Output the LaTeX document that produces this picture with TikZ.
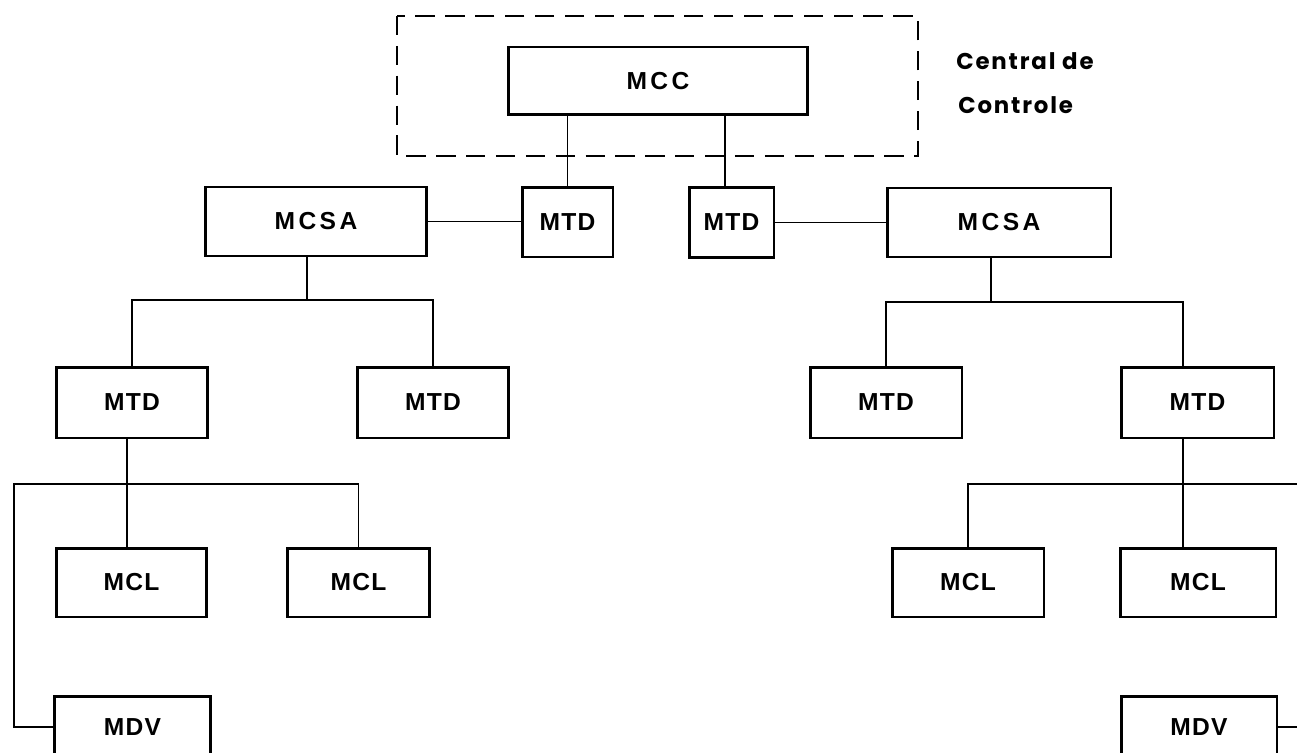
\documentclass[tikz,border=0pt]{standalone}
\usepackage{fontspec}
\setmainfont{Liberation Sans}[LetterSpace=5]
\newfontfamily\widefont{Liberation Sans}[LetterSpace=14]
\newfontfamily\notefont{Poppins}[LetterSpace=8]
\usepackage{tikz}
\usetikzlibrary{positioning, calc}

\begin{document}
\begin{tikzpicture}[x=0.02cm, y=-0.02cm,
    box/.style={rectangle, draw=black, line width=1.7pt, inner sep=0pt,
        font=\bfseries\fontsize{14}{16}\selectfont, minimum height=1.4cm},
    wbox/.style={box, font=\widefont\bfseries\fontsize{14}{16}\selectfont},
    link/.style={draw=black, line width=0.7pt},
    frame/.style={draw=black, line width=1.6pt, dash pattern=on 11pt off 6pt},
    note/.style={font=\notefont\bfseries\fontsize{13}{15}\selectfont, inner sep=0pt, anchor=west}
]
    \useasboundingbox (0,0) rectangle (1297,753);
    \clip (0,0) rectangle (1297,753);

    % central de controle
    \draw[frame] (397,16) rectangle (918,156);
    \node[wbox, minimum width=6cm, minimum height=1.36cm] (mcc) at (658,81) {MCC};
    \node[note] (ctrlA) at (956,61) {Central de};
    \node[note] (ctrlB) at (958,105) {Controle};

    % first level
    \node[box, minimum width=1.82cm] (mtdA) at (567.5,222) {MTD};
    \node[box, minimum width=1.7cm] (mtdB) at (731.5,222.5) {MTD};
    \node[wbox, minimum width=4.44cm, minimum height=1.38cm] (mcsaL) at (316,221.5) {MCSA};
    \node[wbox, minimum width=4.48cm, minimum height=1.38cm] (mcsaR) at (999,222.5) {MCSA};

    % second level
    \node[box, minimum width=3.04cm, minimum height=1.42cm] (mtdL1) at (132,402.5) {MTD};
    \node[box, minimum width=3.04cm, minimum height=1.42cm] (mtdL2) at (433,402.5) {MTD};
    \node[box, minimum width=3.04cm, minimum height=1.42cm] (mtdR1) at (886,402.5) {MTD};
    \node[box, minimum width=3.06cm, minimum height=1.42cm] (mtdR2) at (1197.5,402.5) {MTD};

    % third level
    \node[box, minimum width=3.02cm, minimum height=1.38cm] (mclL1) at (131.5,582.5) {MCL};
    \node[box, minimum width=2.86cm, minimum height=1.38cm] (mclL2) at (358.5,582.5) {MCL};
    \node[box, minimum width=3.04cm, minimum height=1.38cm] (mclR1) at (968,582.5) {MCL};
    \node[box, minimum width=3.12cm, minimum height=1.38cm] (mclR2) at (1198,582.5) {MCL};
    \node[box, minimum width=3.14cm, minimum height=1.24cm] (mdvL) at (132.5,727) {MDV};
    \node[box, minimum width=3.12cm, minimum height=1.24cm] (mdvR) at (1199,727) {MDV};

    \coordinate (tapB) at (725,0);
    \coordinate (dL) at (307,300);
    \coordinate (dR) at (991,302);
    \coordinate (colL) at (127,484);
    \coordinate (colR) at (1183,484);
    \coordinate (endL) at (14,484);
    \coordinate (endR) at (1297,484);
    \coordinate (endR2) at (1297,727);

    \draw[link] (mcc.south -| mtdA.north) -- (mtdA.north);
    \draw[link] (mcc.south -| tapB) -- (mtdB.north -| tapB);
    \draw[link] (mcsaL.east) -- (mcsaL.east -| mtdA.west);
    \draw[link] (mtdB.east) -- (mtdB.east -| mcsaR.west);

    \draw[link] (mcsaL.south -| dL) -- (dL);
    \draw[link] (mtdL1.north) |- (dL) -| (mtdL2.north);
    \draw[link] (mcsaR.south -| dR) -- (dR);
    \draw[link] (mtdR1.north) |- (dR) -| (mtdR2.north -| colR);

    \draw[link] (mtdL1.south -| colL) -- (mclL1.north -| colL);
    \draw[link] (mdvL.west) -| (endL) -| (mclL2.north);
    \draw[link] (mtdR2.south -| colR) -- (mclR2.north -| colR);
    \draw[link] (mclR1.north) |- (endR);
    \draw[link] (mdvR.east) -- (endR2);
\end{tikzpicture}
\end{document}
